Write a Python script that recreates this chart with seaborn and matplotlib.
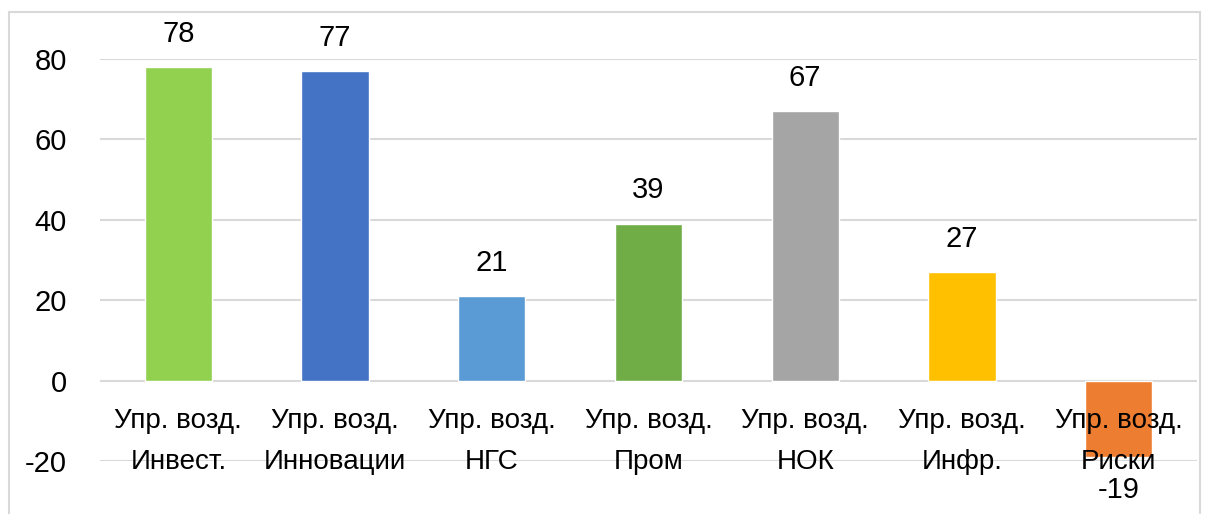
import matplotlib
matplotlib.use("Agg")
import matplotlib.pyplot as plt
from matplotlib.patches import Rectangle
import seaborn as sns
import pandas as pd

# данные с картинки
categories = ["Упр. возд.\nИнвест.", "Упр. возд.\nИнновации", "Упр. возд.\nНГС",
              "Упр. возд.\nПром", "Упр. возд.\nНОК", "Упр. возд.\nИнфр.",
              "Упр. возд.\nРиски"]
values = [78, 77, 21, 39, 67, 27, -19]
colors = ["#92D050", "#4472C4", "#5B9BD5", "#70AD47", "#A5A5A5", "#FFC000", "#ED7D31"]
yticks = [-20, 0, 20, 40, 60, 80]

sns.set_theme(style="white")
plt.rcParams["font.family"] = ["Liberation Sans", "DejaVu Sans"]
plt.rcParams["text.color"] = "black"
fs = 20

df = pd.DataFrame({"cat": categories, "val": values})

fig = plt.figure(figsize=(12.13, 5.14), dpi=100)
fig.patches.append(Rectangle((9 / 1213, -0.1), 1191 / 1213, 1.1 - 12 / 514,
                             transform=fig.transFigure, fill=False,
                             edgecolor="#D9D9D9", linewidth=1.5))
ax = fig.add_axes([100 / 1213, 53 / 514, 1097 / 1213, 402 / 514])

sns.barplot(data=df, x="cat", y="val", hue="cat", palette=colors,
            width=0.43, legend=False, ax=ax, saturation=1, zorder=3)

ax.set_ylim(-20, 80)
ax.set_xlim(-0.5, len(categories) - 0.5)
ax.set_yticks(yticks)
ax.set_yticklabels([str(t) for t in yticks], fontsize=fs + 1, color="black")
ax.tick_params(axis="y", length=0, pad=24)
ax.set_xticks([])
ax.set_xlabel("")
ax.set_ylabel("")
for s in ax.spines.values():
    s.set_visible(False)
for t in yticks:
    ax.axhline(t, color="#D9D9D9", linewidth=1.5, zorder=1)

for i, (c, v) in enumerate(zip(categories, values)):
    ax.annotate(str(v), (i, v), xytext=(0, 14 if v >= 0 else -14),
                textcoords="offset points", ha="center",
                va="bottom" if v >= 0 else "top", fontsize=fs + 1,
                annotation_clip=False)
    ax.annotate(c, (i, 0), xytext=(0, -20), textcoords="offset points",
                ha="center", va="top", fontsize=fs, linespacing=1.75,
                zorder=4)

fig.savefig("out.png", dpi=100)
